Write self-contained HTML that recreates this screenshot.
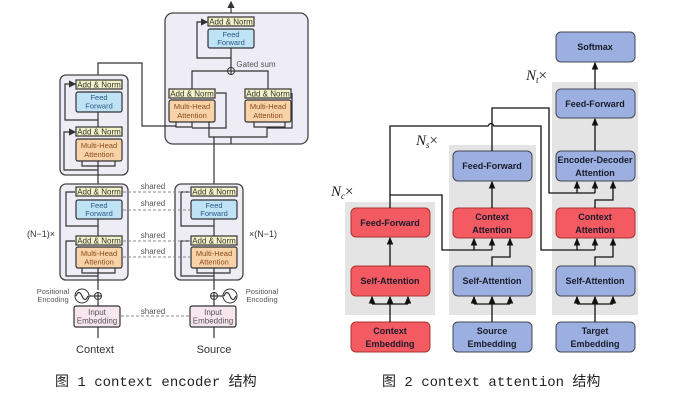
<!DOCTYPE html>
<html><head><meta charset="utf-8"><style>
body{margin:0;background:#fff;width:682px;height:403px;overflow:hidden}
svg{display:block}
.an{fill:#f3f2c6;stroke:#333;stroke-width:1.2}
.ff{fill:#bfe3f5;stroke:#333;stroke-width:1.2}
.mh{fill:#f8d3a8;stroke:#333;stroke-width:1.2}
.ie{fill:#f8e6ee;stroke:#333;stroke-width:1.2}
.blk{fill:#eeecf5;stroke:#444;stroke-width:1.3}
.l{fill:none;stroke:#333;stroke-width:1.2}
.d{fill:none;stroke:#888;stroke-width:1;stroke-dasharray:3,2}
.t{font-family:"Liberation Sans",sans-serif;font-size:8px;fill:#333;text-anchor:middle}
.tb{font-family:"Liberation Sans",sans-serif;font-size:7.5px;fill:#2a5a8a;text-anchor:middle}
.to{font-family:"Liberation Sans",sans-serif;font-size:7.5px;fill:#8a4a1a;text-anchor:middle}
.s{font-family:"Liberation Sans",sans-serif;font-size:8px;fill:#555;text-anchor:middle}
.red{fill:#f45a62;stroke:#a33;stroke-width:1}
.blu{fill:#9bb0e0;stroke:#445;stroke-width:1}
.g{fill:#e4e4e4}
.k{font-family:"Liberation Sans",sans-serif;font-size:9px;font-weight:bold;fill:#1a1a2a;text-anchor:middle}
.m{fill:none;stroke:#111;stroke-width:1.3}
.cap{font-family:"Liberation Mono","Noto Sans CJK SC",monospace;font-size:14px;fill:#222}
.n{font-family:"Liberation Serif",serif;font-style:italic;font-size:15px;fill:#222}
</style></head><body>
<svg width="682" height="403" viewBox="0 0 682 403">
<defs>
<marker id="a" markerWidth="6" markerHeight="6" refX="5" refY="3" orient="auto"><path d="M0,0L6,3L0,6z" fill="#333"/></marker>
<marker id="b" markerWidth="6" markerHeight="6" refX="5" refY="3" orient="auto"><path d="M0,0.5L6,3L0,5.5z" fill="#111"/></marker>
</defs>

<!-- ===== LEFT DIAGRAM ===== -->
<!-- top block -->
<rect class="blk" x="165" y="13" width="143" height="131" rx="8"/>
<line class="l" x1="231" y1="13" x2="231" y2="2" marker-end="url(#a)"/>
<line class="l" x1="231" y1="48" x2="231" y2="68"/>
<path class="l" d="M231,58 H197 V22 H207" marker-end="url(#a)"/>
<rect class="an" x="208" y="17" width="46" height="9"/><text class="t" x="231" y="24.5">Add &amp; Norm</text>
<rect class="ff" x="208" y="29" width="46" height="19" rx="2"/><text class="tb" x="231" y="37">Feed</text><text class="tb" x="231" y="45">Forward</text>
<circle cx="231" cy="71" r="3.5" fill="#fff" stroke="#333"/><path class="l" d="M227.5,71H234.5M231,67.5V74.5"/>
<text class="s" x="256" y="67">Gated sum</text>
<path class="l" d="M192,89 V71 H227"/><path class="l" d="M268,89 V71 H235"/>
<rect class="an" x="169" y="89" width="46" height="9"/><text class="t" x="192" y="96.5">Add &amp; Norm</text>
<rect class="mh" x="169" y="100" width="46" height="22" rx="2"/><text class="to" x="192" y="109">Multi-Head</text><text class="to" x="192" y="118">Attention</text>
<rect class="an" x="245" y="89" width="46" height="9"/><text class="t" x="268" y="96.5">Add &amp; Norm</text>
<rect class="mh" x="245" y="100" width="46" height="22" rx="2"/><text class="to" x="268" y="109">Multi-Head</text><text class="to" x="268" y="118">Attention</text>
<path class="l" d="M209,122 V137 H267 V128 H292 V93"/>
<path class="l" d="M254,122 V127 H285 V122"/>
<path class="l" d="M192,128 H226 V93 H216"/>
<path class="l" d="M176,122 V127 H192 V122"/>
<path class="l" d="M98,75 V63 H142 V126 H176"/>
<line class="l" x1="231" y1="137" x2="231" y2="144"/>
<line class="l" x1="214" y1="184" x2="214" y2="137"/>

<!-- context upper block -->
<rect class="blk" x="60" y="75" width="68" height="100" rx="6"/>
<rect class="an" x="76" y="80" width="46" height="9"/><text class="t" x="99" y="87.5">Add &amp; Norm</text>
<rect class="ff" x="76" y="92" width="46" height="20" rx="2"/><text class="tb" x="99" y="100">Feed</text><text class="tb" x="99" y="108.5">Forward</text>
<rect class="an" x="76" y="127" width="46" height="9"/><text class="t" x="99" y="134.5">Add &amp; Norm</text>
<rect class="mh" x="76" y="139" width="46" height="22" rx="2"/><text class="to" x="99" y="148">Multi-Head</text><text class="to" x="99" y="157">Attention</text>
<path class="l" d="M98,112 V127 M98,120 H65 V84 H75" marker-end="url(#a)"/>
<path class="l" d="M98,175 V161 M98,170 H64 V132 H75" marker-end="url(#a)"/>
<path class="l" d="M82,161 V166 H115 V161"/>
<line class="l" x1="98" y1="175" x2="98" y2="184"/>

<!-- lower blocks -->
<rect class="blk" x="60" y="184" width="68" height="96" rx="6"/>
<rect class="blk" x="175" y="184" width="68" height="96" rx="6"/>
<g>
<rect class="an" x="76" y="187" width="46" height="9"/><text class="t" x="99" y="194.5">Add &amp; Norm</text>
<rect class="ff" x="76" y="200" width="46" height="19" rx="2"/><text class="tb" x="99" y="208">Feed</text><text class="tb" x="99" y="216">Forward</text>
<rect class="an" x="76" y="236" width="46" height="9"/><text class="t" x="99" y="243.5">Add &amp; Norm</text>
<rect class="mh" x="76" y="247" width="46" height="21" rx="2"/><text class="to" x="99" y="256">Multi-Head</text><text class="to" x="99" y="264.5">Attention</text>
<path class="l" d="M98,290 V268 M98,219 V236 M98,226 H66 V192 H75 M98,276 H66 V241 H75"/>
<path class="l" d="M82,268 V273 H115 V268"/>
</g>
<g>
<rect class="an" x="191" y="187" width="46" height="9"/><text class="t" x="214" y="194.5">Add &amp; Norm</text>
<rect class="ff" x="191" y="200" width="46" height="19" rx="2"/><text class="tb" x="214" y="208">Feed</text><text class="tb" x="214" y="216">Forward</text>
<rect class="an" x="191" y="236" width="46" height="9"/><text class="t" x="214" y="243.5">Add &amp; Norm</text>
<rect class="mh" x="191" y="247" width="46" height="21" rx="2"/><text class="to" x="214" y="256">Multi-Head</text><text class="to" x="214" y="264.5">Attention</text>
<path class="l" d="M214,290 V268 M214,219 V236 M214,226 H181 V192 H190 M214,276 H181 V241 H190"/>
<path class="l" d="M197,268 V273 H230 V268"/>
</g>
<!-- shared -->
<path class="d" d="M123,192H190 M123,210H190 M123,241H190 M123,257H190 M121,316H189"/>
<text class="s" x="153" y="189">shared</text><text class="s" x="153" y="206">shared</text>
<text class="s" x="153" y="238">shared</text><text class="s" x="153" y="254">shared</text>
<text class="s" x="153" y="314">shared</text>
<text class="t" x="41" y="237" style="font-size:9px">(N−1)×</text>
<text class="t" x="263" y="237" style="font-size:9px">×(N−1)</text>
<!-- pos enc -->
<circle cx="98" cy="296" r="3.5" fill="#fff" stroke="#333"/><path class="l" d="M94.5,296H101.5M98,292.5V299.5"/>
<circle cx="214" cy="296" r="3.5" fill="#fff" stroke="#333"/><path class="l" d="M210.5,296H217.5M214,292.5V299.5"/>
<circle cx="82" cy="296" r="7" fill="#fff" stroke="#333"/><path class="l" d="M76,296 q3,-7 6,0 q3,7 6,0"/>
<circle cx="230" cy="296" r="7" fill="#fff" stroke="#333"/><path class="l" d="M224,296 q3,-7 6,0 q3,7 6,0"/>
<line class="l" x1="89" y1="296" x2="94" y2="296"/><line class="l" x1="218" y1="296" x2="223" y2="296"/>
<text class="s" x="53" y="294" style="font-size:7.5px">Positional</text><text class="s" x="53" y="302" style="font-size:7.5px">Encoding</text>
<text class="s" x="262" y="294" style="font-size:7.5px">Positional</text><text class="s" x="262" y="302" style="font-size:7.5px">Encoding</text>
<line class="l" x1="98" y1="300" x2="98" y2="306"/><line class="l" x1="214" y1="300" x2="214" y2="306"/>
<rect class="ie" x="74" y="306" width="46" height="21" rx="2"/><text class="s" x="97" y="315">Input</text><text class="s" x="97" y="323.5">Embedding</text>
<rect class="ie" x="190" y="306" width="46" height="21" rx="2"/><text class="s" x="213" y="315">Input</text><text class="s" x="213" y="323.5">Embedding</text>
<line class="l" x1="98" y1="338" x2="98" y2="327"/><line class="l" x1="214" y1="338" x2="214" y2="327"/>
<text class="t" x="95" y="353" style="font-size:11px">Context</text>
<text class="t" x="214" y="353" style="font-size:11px">Source</text>
<text class="cap" x="55" y="386">图 1 context encoder 结构</text>

<!-- ===== RIGHT DIAGRAM ===== -->
<rect class="g" x="345" y="202" width="90" height="113"/>
<rect class="g" x="449" y="145" width="87" height="170"/>
<rect class="g" x="552" y="82" width="86" height="233"/>
<text class="n" x="331" y="196">N<tspan font-size="9" dy="3">c</tspan><tspan dy="-3" font-style="normal">×</tspan></text>
<text class="n" x="416" y="145">N<tspan font-size="9" dy="3">s</tspan><tspan dy="-3" font-style="normal">×</tspan></text>
<text class="n" x="526" y="80">N<tspan font-size="9" dy="3">t</tspan><tspan dy="-3" font-style="normal">×</tspan></text>

<!-- context column -->
<rect class="red" x="351" y="208" width="79" height="29" rx="5"/><text class="k" x="390" y="226">Feed-Forward</text>
<rect class="red" x="351" y="266" width="79" height="30" rx="5"/><text class="k" x="390" y="284">Self-Attention</text>
<rect class="red" x="351" y="322" width="79" height="30" rx="5"/><text class="k" x="390" y="334">Context</text><text class="k" x="390" y="347">Embedding</text>
<!-- source -->
<rect class="blu" x="453" y="151" width="79" height="30" rx="5"/><text class="k" x="492" y="169">Feed-Forward</text>
<rect class="red" x="453" y="208" width="79" height="30" rx="5"/><text class="k" x="492" y="220">Context</text><text class="k" x="492" y="233">Attention</text>
<rect class="blu" x="453" y="266" width="79" height="30" rx="5"/><text class="k" x="492" y="284">Self-Attention</text>
<rect class="blu" x="453" y="322" width="79" height="30" rx="5"/><text class="k" x="492" y="334">Source</text><text class="k" x="492" y="347">Embedding</text>
<!-- target -->
<rect class="blu" x="556" y="32" width="79" height="30" rx="5"/><text class="k" x="595" y="50">Softmax</text>
<rect class="blu" x="556" y="89" width="79" height="29" rx="5"/><text class="k" x="595" y="107">Feed-Forward</text>
<rect class="blu" x="556" y="151" width="79" height="30" rx="5"/><text class="k" x="595" y="163">Encoder-Decoder</text><text class="k" x="595" y="176">Attention</text>
<rect class="red" x="556" y="208" width="79" height="30" rx="5"/><text class="k" x="595" y="220">Context</text><text class="k" x="595" y="233">Attention</text>
<rect class="blu" x="556" y="266" width="79" height="30" rx="5"/><text class="k" x="595" y="284">Self-Attention</text>
<rect class="blu" x="556" y="322" width="79" height="30" rx="5"/><text class="k" x="595" y="334">Target</text><text class="k" x="595" y="347">Embedding</text>

<!-- arrows -->
<g class="m">
<path d="M595,89 V63" marker-end="url(#b)"/>
<path d="M595,151 V119" marker-end="url(#b)"/>
<path d="M390,266 V238" marker-end="url(#b)"/>
<path d="M492,208 V182" marker-end="url(#b)"/>
<!-- self-attn fan-ins -->
<path d="M390,322 V304 M372,304 H408"/><path d="M372,304 V297" marker-end="url(#b)"/><path d="M390,304 V297" marker-end="url(#b)"/><path d="M408,304 V297" marker-end="url(#b)"/>
<path d="M492,322 V304 M474,304 H510"/><path d="M474,304 V297" marker-end="url(#b)"/><path d="M492,304 V297" marker-end="url(#b)"/><path d="M510,304 V297" marker-end="url(#b)"/>
<path d="M595,322 V304 M577,304 H613"/><path d="M577,304 V297" marker-end="url(#b)"/><path d="M595,304 V297" marker-end="url(#b)"/><path d="M613,304 V297" marker-end="url(#b)"/>
<!-- self-attn to ctx attn third input -->
<path d="M492,266 V257 H510 V239" marker-end="url(#b)"/>
<path d="M595,266 V257 H613 V239" marker-end="url(#b)"/>
<!-- context FF outputs -->
<path d="M390,208 V126 H488 q3,-5 6,0 H541 V250 H595"/>
<path d="M577,250 V239" marker-end="url(#b)"/><path d="M595,250 V239" marker-end="url(#b)"/>
<path d="M390,195 H442 V250 H492"/>
<path d="M474,250 V239" marker-end="url(#b)"/><path d="M492,250 V239" marker-end="url(#b)"/>
<!-- source FF output -->
<path d="M492,151 V108 H549 V193 H595"/>
<path d="M577,193 V182" marker-end="url(#b)"/><path d="M595,193 V182" marker-end="url(#b)"/>
<path d="M595,208 V200 H613 V182" marker-end="url(#b)"/>
</g>
<text class="cap" x="382" y="386">图 2 context attention 结构</text>
</svg>
</body></html>
